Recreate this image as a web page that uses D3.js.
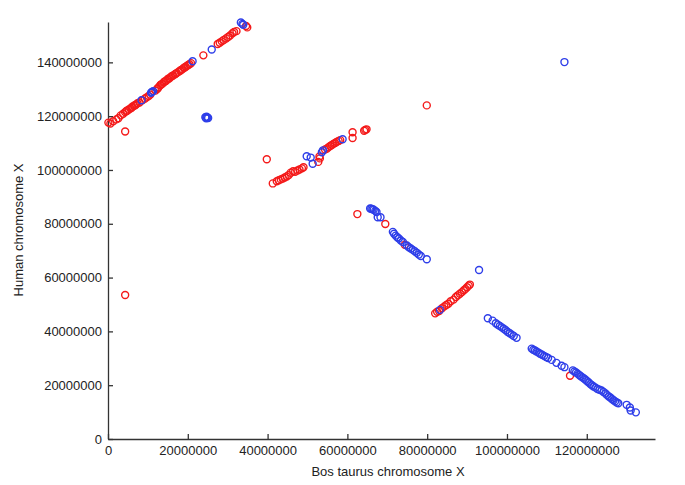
<!DOCTYPE html>
<html>
<head>
<meta charset="utf-8">
<script src="https://cdn.jsdelivr.net/npm/d3@7"></script>
<style>
	body { margin: 0; background: #fff; }
	svg text { font-family: "Liberation Sans", Arial, Helvetica, sans-serif; fill: #222; }
</style>
</head>
<body>
<div id="chart"></div>
<script>
// positions in millions of bp: [Bos taurus X, Human X]
const redPoints = [
	[0.1,117.6],[0.6,117.3],[1.3,118.1],[2.1,118.8],[2.6,119.2],[3.2,120.3],[3.8,120.9],[4.3,121.5],[4.8,122.0],[5.2,122.5],
	[5.6,122.8],[6.1,123.5],[6.5,123.9],[7.0,124.3],[7.4,124.8],[7.9,125.1],[8.6,125.9],[9.2,126.5],[9.7,127.0],[10.2,127.5],
	[10.6,128.0],[11.9,129.5],[12.3,130.1],[12.7,130.8],[13.1,131.5],[13.6,132.0],[14.0,132.6],[14.5,133.1],[14.9,133.6],
	[15.4,134.1],[15.8,134.6],[16.3,135.1],[16.8,135.6],[17.2,136.0],[17.7,136.5],[18.1,136.9],[18.6,137.4],[19.0,137.9],
	[19.5,138.4],[19.9,138.8],[20.4,139.3],[20.8,139.7],[23.9,142.6],
	[4.6,121.9],[5.9,123.1],[6.8,124.0],[12.5,130.4],[13.3,131.8],[14.2,132.9],[15.1,133.9],[16.0,134.9],[17.0,135.8],
	[18.3,137.2],[19.2,138.1],[20.1,139.0],
	[27.5,146.8],[28.0,147.3],[28.5,147.8],[29.0,148.3],[29.6,148.9],[30.1,149.4],[30.6,150.0],[31.2,150.8],[31.6,151.3],
	[32.2,151.6],[34.6,153.5],[34.9,153.0],
	[4.3,114.3],[4.3,53.5],[39.8,104.0],[79.9,124.0],[62.5,83.6],[69.5,79.9],[115.8,23.5],[74.4,72.2],
	[41.3,95.0],[42.3,95.8],[42.8,96.2],[43.3,96.5],[43.8,96.8],[44.3,97.2],[44.8,97.6],[45.3,98.1],[45.8,99.0],[46.4,99.5],
	[46.9,99.3],[47.5,99.8],[48.0,100.2],[48.6,100.6],[49.0,101.0],[52.7,103.0],[53.1,104.3],[53.0,105.0],
	[54.4,107.6],[54.9,108.0],[55.3,108.5],[55.7,108.9],[56.1,109.3],[56.5,109.7],[56.9,110.0],[57.3,110.4],[57.8,110.8],
	[58.2,111.1],[61.3,114.0],[61.3,111.9],[64.2,114.6],[64.5,114.9],[64.8,115.1],
	[82.0,46.7],[82.5,47.3],[83.0,47.6],[83.7,48.6],[84.3,49.3],[84.8,49.8],[85.3,50.3],[85.9,51.2],[86.6,51.8],[87.2,52.8],
	[87.7,53.4],[88.2,54.0],[88.7,54.6],[89.2,55.3],[89.6,55.8],[90.0,56.4],[90.4,57.0],[90.7,57.4]
];

const bluePoints = [
	[8.4,125.9],[10.8,128.7],[11.0,129.0],[11.3,129.3],[21.2,140.4],[26.0,144.8],[33.3,154.8],[33.7,154.3],[33.9,154.0],
	[24.4,119.6],[24.7,119.8],[24.9,119.5],[25.1,119.3],[24.6,119.2],
	[49.8,105.1],[50.8,104.6],[51.3,102.3],[53.6,106.6],[53.9,107.3],[58.8,111.4],
	[65.7,85.7],[66.0,85.6],[66.3,85.4],[66.6,85.2],[67.0,84.8],[67.3,84.4],[67.6,82.4],[68.3,82.4],
	[71.4,77.0],[71.7,76.3],[72.1,75.6],[72.5,75.0],[72.9,74.5],[73.4,73.8],[73.9,73.2],[74.9,71.9],[75.4,71.3],
	[75.9,70.8],[76.4,70.3],[76.9,69.8],[77.4,69.2],[77.9,68.6],[78.4,68.0],[79.9,66.8],
	[93.0,62.8],[83.2,48.0],
	[95.2,44.9],[96.4,44.0],[97.2,43.0],[97.7,42.5],[98.2,42.0],[98.7,41.5],[99.2,41.0],[99.7,40.4],[100.2,39.8],
	[100.7,39.3],[101.2,38.8],[101.7,38.3],[102.4,37.6],
	[106.2,33.6],[106.6,33.2],[107.0,32.9],[107.4,32.5],[107.9,32.1],[108.3,31.7],[108.8,31.3],[109.3,30.9],[109.8,30.5],
	[110.3,30.1],[111.2,29.4],[112.4,28.3],[113.7,27.2],[114.4,26.7],[114.4,140.1],
	[116.5,25.5],[116.9,25.1],[117.3,24.7],[117.7,24.3],[118.1,23.8],[118.5,23.3],[118.9,22.9],[119.3,22.5],[119.7,22.0],
	[120.1,21.5],[120.5,21.0],[120.9,20.4],[121.3,20.0],[121.7,19.5],[122.2,19.1],[122.7,18.6],[123.2,18.3],[123.7,18.0],
	[124.2,17.5],[124.7,16.9],[125.1,16.3],[125.5,15.8],[125.9,15.4],[126.3,14.9],[126.7,14.4],[127.1,14.0],[127.5,13.6],
	[127.9,13.3],[130.0,12.7],[130.8,11.7],[131.0,10.6],[132.3,9.9]
];

const xTicks = [0, 20000000, 40000000, 60000000, 80000000, 100000000, 120000000];
const yTicks = [0, 20000000, 40000000, 60000000, 80000000, 100000000, 120000000, 140000000];

const xTitle = "Bos taurus chromosome X";
const yTitle = "Human chromosome X";

const margin = { top: 22, right: 30, bottom: 46, left: 108 },
	width = 685 - margin.left - margin.right,
	height = 485 - margin.top - margin.bottom;

const svg = d3.select("#chart")
	.append("svg")
	.attr("width", 685)
	.attr("height", 485);

const g = svg.append("g")
	.attr("transform", `translate(${margin.left}, ${margin.top})`);

const x = d3.scaleLinear()
	.domain([0, 137100000])
	.range([0, width]);

const y = d3.scaleLinear()
	.domain([0, 155000000])
	.range([height, 0]);

// axes, ticks pointing inward
const xAxis = g.append("g")
	.attr("transform", `translate(0, ${height})`)
	.call(d3.axisBottom(x).tickValues(xTicks).tickFormat(d3.format("d"))
		.tickSizeInner(-5).tickSizeOuter(0).tickPadding(7));

const yAxis = g.append("g")
	.call(d3.axisLeft(y).tickValues(yTicks).tickFormat(d3.format("d"))
		.tickSizeInner(-5).tickSizeOuter(0).tickPadding(6));

[xAxis, yAxis].forEach(function (a) {
	a.selectAll("path, line").attr("stroke", "#333").attr("stroke-width", 1.3);
	a.selectAll("text").style("font-size", "13px").attr("fill", "#222");
});

// points
const series = [
	{ data: redPoints, color: "#f41a1a" },
	{ data: bluePoints, color: "#2e3ee9" }
];

series.forEach(function (s) {
	g.append("g")
		.selectAll("circle")
		.data(s.data)
		.enter()
		.append("circle")
		.attr("cx", function (d) { return x(d[0] * 1e6); })
		.attr("cy", function (d) { return y(d[1] * 1e6); })
		.attr("r", 3.5)
		.attr("fill", "none")
		.attr("stroke", s.color)
		.attr("stroke-width", 1.4);
});

// axis titles
svg.append("text")
	.attr("x", 388)
	.attr("y", 476)
	.attr("text-anchor", "middle")
	.style("font-size", "13px")
	.text(xTitle);

svg.append("text")
	.attr("transform", "translate(23, 230) rotate(-90)")
	.attr("text-anchor", "middle")
	.style("font-size", "13px")
	.text(yTitle);
</script>
</body>
</html>
